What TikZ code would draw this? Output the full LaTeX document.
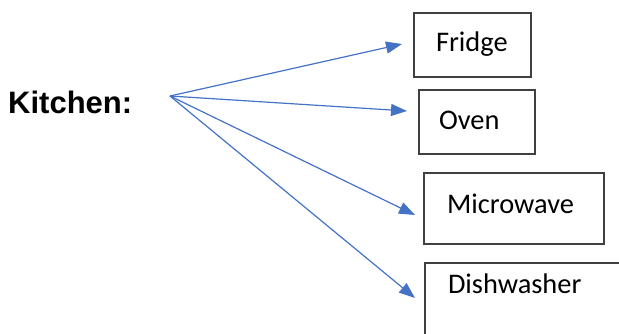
\documentclass[tikz,border=0pt]{standalone}
\usepackage{fontspec}
\setmainfont{Carlito}
\newfontfamily\kitchenfont{Liberation Sans}
\usepackage{tikz}
\usetikzlibrary{arrows.meta}
\definecolor{arrowblue}{RGB}{68,114,196}
\definecolor{boxgrey}{RGB}{64,64,64}
\tikzset{
    box/.style={draw=boxgrey, line width=2pt, anchor=north west, align=left, inner ysep=0pt,
        font=\fontsize{28.4}{30}\selectfont},
    link/.style={arrowblue, line width=1.2pt, -{Triangle[length=16pt, width=12pt]}}
}

\begin{document}
\begin{tikzpicture}[x=1pt, y=-1pt]
    \useasboundingbox (0,0) rectangle (619,333);
    \clip (0,0) rectangle (619,333);

    % Label
    \node [anchor=base west, inner sep=0pt, font=\kitchenfont\bfseries\fontsize{31}{33}\selectfont] (kitchen) at (8,113) {Kitchen:};

    % Appliances
    \node [box, inner xsep=22pt, text width=73pt, text height=38pt, text depth=26pt] (fridge) at (413,12) {Fridge};
    \node [box, inner xsep=20pt, text width=76pt, text height=39pt, text depth=25pt] (oven) at (418,89) {Oven};
    \node [box, inner xsep=23pt, text width=134pt, text height=40pt, text depth=31pt] (microwave) at (423,172) {Microwave};
    \node [box, inner xsep=23pt, text width=180pt, text height=30pt, text depth=60pt] (dishwasher) at (424,262) {Dishwasher};

    % Arrows
    \coordinate (src) at (170,96);
    \coordinate (fridgein) at (402,44);
    \coordinate (ovenin) at (407,111);
    \coordinate (microwavein) at (415,215);
    \coordinate (dishwasherin) at (415,298);
    \draw [link] (src) -- (fridgein);
    \draw [link] (src) -- (ovenin);
    \draw [link] (src) -- (microwavein);
    \draw [link] (src) -- (dishwasherin);

\end{tikzpicture}
\end{document}
